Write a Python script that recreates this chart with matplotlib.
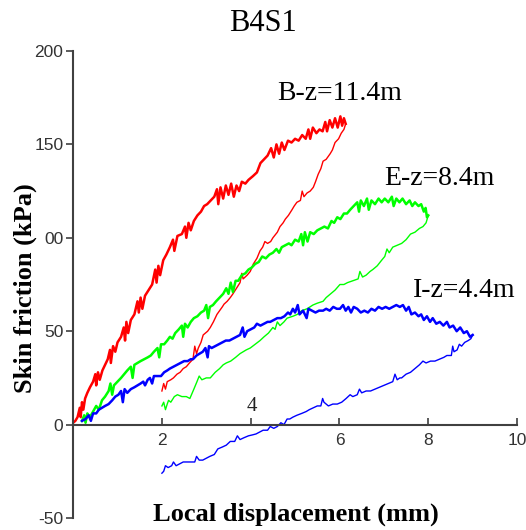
import matplotlib
matplotlib.use("Agg")
import matplotlib.pyplot as plt

# --- dados (deslocamento em mm, atrito em kPa) ---
red_load_x = [0.00, 0.05, 0.10, 0.15, 0.17, 0.20, 0.23, 0.27, 0.32, 0.38, 0.45, 0.50, 0.52, 0.56, 0.60,
              0.66, 0.72, 0.78, 0.83, 0.85, 0.90, 0.95, 1.00, 1.08, 1.14, 1.17, 1.20, 1.24, 1.30, 1.38,
              1.45, 1.48, 1.52, 1.56, 1.62, 1.70, 1.78, 1.85, 1.88, 1.92, 1.96, 2.03, 2.10, 2.18, 2.25,
              2.28, 2.35, 2.45, 2.52, 2.55, 2.60, 2.65, 2.72, 2.80, 2.88, 2.95, 3.02, 3.10, 3.18, 3.24,
              3.27, 3.32, 3.38, 3.44, 3.50, 3.56, 3.62, 3.68, 3.74, 3.80, 3.88, 3.95, 4.05, 4.14, 4.22,
              4.30, 4.38, 4.46, 4.52, 4.58, 4.64, 4.70, 4.76, 4.84, 4.92, 5.00, 5.08, 5.16, 5.24, 5.30,
              5.34, 5.40, 5.48, 5.55, 5.62, 5.68, 5.72, 5.78, 5.84, 5.90, 5.96, 6.02, 6.06, 6.10, 6.14]
red_load_y = [1, 2, 4, 9, 4, 12, 8, 14, 17, 20, 23, 27, 21, 28, 24,
              29, 32, 35, 40, 33, 42, 39, 44, 47, 52, 45, 55, 49, 56, 59,
              66, 60, 68, 62, 69, 72, 75, 83, 76, 85, 80, 88, 91, 95, 99,
              93, 101, 102, 106, 100, 108, 104, 109, 112, 114, 117, 118, 120, 122, 126,
              118, 127, 121, 128, 123, 129, 122, 128, 125, 130, 129, 131, 133, 135, 140,
              142, 144, 148, 143, 150, 145, 151, 147, 152, 151, 153, 152, 155, 153, 158,
              153, 159, 156, 158, 157, 162, 157, 163, 159, 164, 159, 165, 160, 164, 161]
red_unload_x = [6.14, 6.10, 6.04, 5.98, 5.90, 5.84, 5.79, 5.70, 5.63, 5.58, 5.52, 5.46, 5.41, 5.34, 5.27,
                5.20, 5.16, 5.12, 5.04, 4.98, 4.93, 4.85, 4.78, 4.73, 4.66, 4.60, 4.50, 4.45, 4.38, 4.32,
                4.27, 4.21, 4.14, 4.06, 3.99, 3.92, 3.83, 3.80, 3.76, 3.68, 3.60, 3.54, 3.47, 3.40, 3.36,
                3.30, 3.24, 3.16, 3.09, 3.03, 2.93, 2.88, 2.82, 2.78, 2.74, 2.70, 2.62, 2.55, 2.48, 2.41,
                2.34, 2.26, 2.20, 2.12, 2.08, 2.04, 2.00]
red_unload_y = [161, 158, 156, 153, 151, 147, 145, 142, 141, 137, 134, 130, 127, 125, 124,
                122, 125, 120, 119, 117, 115, 112, 110, 108, 106, 103, 100, 98, 97, 98,
                95, 93, 89, 86, 82, 80, 78, 81, 76, 73, 70, 68, 66, 64.5, 63,
                61, 59, 55, 52, 50, 48, 44, 41, 38, 42, 35, 33, 31, 30, 28,
                27, 25, 24, 23, 19, 22, 18]

green_load_x = [0.20, 0.25, 0.28, 0.32, 0.38, 0.45, 0.52, 0.58, 0.65, 0.72, 0.80, 0.84, 0.88, 0.92, 1.00,
                1.08, 1.15, 1.22, 1.30, 1.34, 1.38, 1.45, 1.52, 1.60, 1.68, 1.75, 1.82, 1.90, 1.94, 1.98,
                2.05, 2.12, 2.18, 2.24, 2.30, 2.38, 2.45, 2.48, 2.52, 2.58, 2.65, 2.72, 2.80, 2.88, 2.95,
                3.00, 3.04, 3.08, 3.15, 3.22, 3.30, 3.38, 3.45, 3.50, 3.55, 3.60, 3.66, 3.72, 3.80, 3.88,
                3.95, 4.02, 4.10, 4.18, 4.26, 4.34, 4.42, 4.50, 4.58, 4.64, 4.70, 4.78, 4.86, 4.92, 5.00,
                5.08, 5.14, 5.18, 5.22, 5.28, 5.34, 5.42, 5.50, 5.58, 5.66, 5.74, 5.82, 5.88, 5.95, 6.02,
                6.10, 6.17, 6.24, 6.32, 6.40, 6.44, 6.48, 6.55, 6.62, 6.66, 6.72, 6.80, 6.88, 6.95, 7.02,
                7.10, 7.18, 7.22, 7.28, 7.35, 7.42, 7.50, 7.58, 7.64, 7.70, 7.78, 7.84, 7.90, 7.94, 7.97,
                8.00]
green_load_y = [2, 5, 1, 6, 4, 7, 10, 8, 13, 15, 18, 22, 16, 21, 23,
                25, 27, 29, 31, 25, 32, 33, 34, 35, 36, 37, 39, 41, 36, 43,
                43, 45, 47, 46, 49, 51, 53, 47, 54, 52, 55, 57, 58, 60, 61,
                64, 57, 63, 64, 66, 68, 70, 73, 70, 76, 71, 77, 77, 80, 81,
                83, 84, 86, 87, 90, 89, 91, 92, 94, 92, 95, 96, 97, 96, 99,
                98, 102, 96, 103, 98, 103, 102, 104, 105, 106, 105, 109, 108, 111, 110,
                113, 113, 115, 117, 119, 114, 120, 117, 121, 115, 120, 118, 121, 119, 121,
                119, 122, 117, 121, 119, 121, 118, 120, 117, 119, 117, 118, 114, 116, 111,
                112]
green_unload_x = [8.00, 7.95, 7.88, 7.80, 7.70, 7.60, 7.50, 7.40, 7.30, 7.20, 7.12, 7.07, 7.02, 6.95, 6.85,
                  6.75, 6.69, 6.60, 6.52, 6.46, 6.42, 6.30, 6.18, 6.10, 6.01, 5.90, 5.80, 5.70, 5.63, 5.50,
                  5.40, 5.27, 5.15, 5.05, 4.95, 4.82, 4.75, 4.66, 4.60, 4.55, 4.50, 4.40, 4.30, 4.21, 4.10,
                  3.99, 3.90, 3.76, 3.66, 3.55, 3.45, 3.38, 3.30, 3.20, 3.09, 3.00, 2.90, 2.84, 2.79, 2.72,
                  2.63, 2.55, 2.45, 2.35, 2.28, 2.20, 2.15, 2.12, 2.08, 2.04, 2.00]
green_unload_y = [112, 108, 106, 105, 103, 102, 99, 97, 96, 95, 92, 94, 90, 88, 85,
                  83, 82, 80, 79, 82, 78, 77, 76, 75, 75, 72, 70, 68, 66, 65,
                  64, 62, 61, 59, 58, 57, 55, 53, 55, 51, 52, 49, 47, 45, 43,
                  41, 40, 38, 36, 34, 33, 32, 30, 28, 25, 25, 24, 26, 23, 19,
                  14, 15, 15, 16, 15, 12, 13, 11, 8, 12, 10]

blue_load_x = [0.20, 0.28, 0.35, 0.40, 0.45, 0.52, 0.58, 0.65, 0.72, 0.80, 0.88, 0.95, 1.02, 1.08, 1.12,
               1.16, 1.22, 1.30, 1.38, 1.45, 1.52, 1.58, 1.62, 1.68, 1.73, 1.78, 1.82, 1.90, 1.98, 2.05,
               2.12, 2.18, 2.26, 2.34, 2.42, 2.50, 2.58, 2.65, 2.70, 2.78, 2.85, 2.92, 2.98, 3.03, 3.06,
               3.12, 3.20, 3.28, 3.36, 3.44, 3.52, 3.60, 3.68, 3.76, 3.82, 3.86, 3.92, 4.00, 4.08, 4.14,
               4.22, 4.30, 4.38, 4.44, 4.52, 4.60, 4.68, 4.76, 4.84, 4.89, 4.95, 5.00, 5.06, 5.10, 5.18,
               5.26, 5.30, 5.38, 5.46, 5.54, 5.63, 5.70, 5.78, 5.86, 5.94, 6.01, 6.08, 6.14, 6.20, 6.26,
               6.32, 6.40, 6.48, 6.56, 6.64, 6.72, 6.80, 6.88, 6.96, 7.04, 7.12, 7.20, 7.28, 7.36, 7.43,
               7.50, 7.56, 7.62, 7.70, 7.78, 7.84, 7.90, 7.97, 8.04, 8.10, 8.18, 8.26, 8.34, 8.42, 8.48,
               8.56, 8.64, 8.72, 8.80, 8.87, 8.94, 9.00]
blue_load_y = [2, 3, 5, 2, 6, 6, 8, 9, 10, 11, 13, 15, 16, 18, 12,
               19, 17, 19, 20, 21, 22, 23, 21, 24, 25, 22, 26, 26, 26, 28,
               29, 30, 31, 32, 33, 34, 34, 35, 35, 37, 38, 39, 41, 36, 42,
               41, 42, 43, 44, 45, 45, 46, 47, 48, 52, 47, 50, 51, 52, 54,
               53, 54, 55, 55, 56, 57, 57, 58, 60, 59, 62, 60, 64, 59, 61,
               57, 62, 61, 60, 61, 61, 62, 61, 63, 62, 62, 64, 61, 63, 60,
               63, 62, 60, 61, 60, 62, 61, 63, 62, 63, 62, 63, 64, 63, 64,
               61, 63, 59, 60, 58, 59, 56, 58, 55, 57, 54, 55, 53, 55, 52,
               53, 50, 52, 49, 50, 47, 48]
blue_unload_x = [9.00, 8.96, 8.90, 8.82, 8.75, 8.70, 8.65, 8.58, 8.55, 8.52, 8.42, 8.35, 8.25, 8.15, 8.05,
                 7.95, 7.88, 7.80, 7.70, 7.60, 7.50, 7.40, 7.36, 7.30, 7.25, 7.20, 7.10, 7.00, 6.90, 6.80,
                 6.70, 6.60, 6.50, 6.45, 6.40, 6.30, 6.24, 6.15, 6.05, 5.95, 5.85, 5.75, 5.65, 5.62, 5.58,
                 5.50, 5.41, 5.32, 5.25, 5.15, 5.04, 4.95, 4.88, 4.82, 4.75, 4.68, 4.60, 4.52, 4.44, 4.38,
                 4.28, 4.20, 4.12, 4.04, 3.95, 3.85, 3.76, 3.70, 3.64, 3.54, 3.45, 3.36, 3.26, 3.18, 3.08,
                 3.00, 2.92, 2.84, 2.78, 2.74, 2.66, 2.56, 2.48, 2.40, 2.32, 2.26, 2.22, 2.14, 2.08, 2.04,
                 2.00]
blue_unload_y = [48, 46, 45, 44, 42, 43, 40, 39, 42, 37, 37, 36, 35, 34, 34,
                 33, 34, 32, 30, 28, 27, 25, 25, 24, 27, 23, 22, 21, 20, 19,
                 18, 18, 17, 19, 16, 15, 16, 14, 12, 11, 11, 10, 12, 14, 10,
                 10, 9, 8, 7, 6, 5, 4, 3, 3, 0, 1, -1, -2, -1, -3,
                 -3, -4, -5, -5.5, -6, -7, -8, -6, -9, -9, -11, -12, -13, -16, -17,
                 -18, -19, -19, -17, -20, -20, -20, -20, -21, -22, -20, -22, -23, -22, -25,
                 -26]

curve_labels = ["B-z=11.4m", "E-z=8.4m", "I-z=4.4m"]
label_pos = [(4.6, 177), (7.0, 132), (7.66, 72)]

fig = plt.figure(figsize=(5.26, 5.30), dpi=100)
ax = fig.add_axes([0.139, 0.0226, 0.844, 0.8812])

ax.plot(red_load_x, red_load_y, color="#FF0000", lw=1.8)
ax.plot(red_unload_x, red_unload_y, color="#FF0000", lw=1.0)
ax.plot(green_load_x, green_load_y, color="#00FF00", lw=1.8)
ax.plot(green_unload_x, green_unload_y, color="#00FF00", lw=1.0)
ax.plot(blue_load_x, blue_load_y, color="#0000FF", lw=1.8)
ax.plot(blue_unload_x, blue_unload_y, color="#0000FF", lw=1.0)

for txt, (tx, ty) in zip(curve_labels, label_pos):
    ax.text(tx, ty, txt, family="Liberation Serif", fontsize=20, ha="left", va="center")

ax.set_xlim(0, 10)
ax.set_ylim(-50, 200)

# eixos estilo MATLAB: eixo x passa pelo zero
ax.spines["top"].set_visible(False)
ax.spines["right"].set_visible(False)
ax.spines["bottom"].set_position(("data", 0))
for s in ("left", "bottom"):
    ax.spines[s].set_color("#404040")
    ax.spines[s].set_linewidth(1.5)

ax.set_xticks([2, 4, 6, 8, 10])
ax.set_xticklabels(["2", "", "6", "8", "10"])
ax.set_yticks([-50, 0, 50, 100, 150, 200])
ax.set_yticklabels(["-50", "0", "50", "00", "150", "200"])
ax.tick_params(axis="x", direction="in", length=5, width=1.2, pad=6, colors="#404040",
               labelsize=12.5, labelcolor="#333333")
ax.tick_params(axis="y", direction="out", length=5, width=1.2, pad=2, colors="#404040",
               labelsize=12.5, labelcolor="#333333")
for lab in ax.get_xticklabels() + ax.get_yticklabels():
    lab.set_family("Liberation Sans")
ax.text(4.03, 9.5, "4", family="Liberation Serif", fontsize=15, color="#222222", ha="center", va="center")

fig.text(0.5, 0.955, "B4S1", family="Liberation Serif", fontsize=22, ha="center", va="center")
fig.text(0.563, 0.03, "Local displacement (mm)", family="Liberation Serif", fontsize=19,
         fontweight="bold", ha="center", va="center")
fig.text(0.048, 0.457, "Skin friction (kPa)", family="Liberation Serif", fontsize=19,
         fontweight="bold", ha="center", va="center", rotation=90)

fig.savefig("out.png", dpi=100)
plt.close(fig)
